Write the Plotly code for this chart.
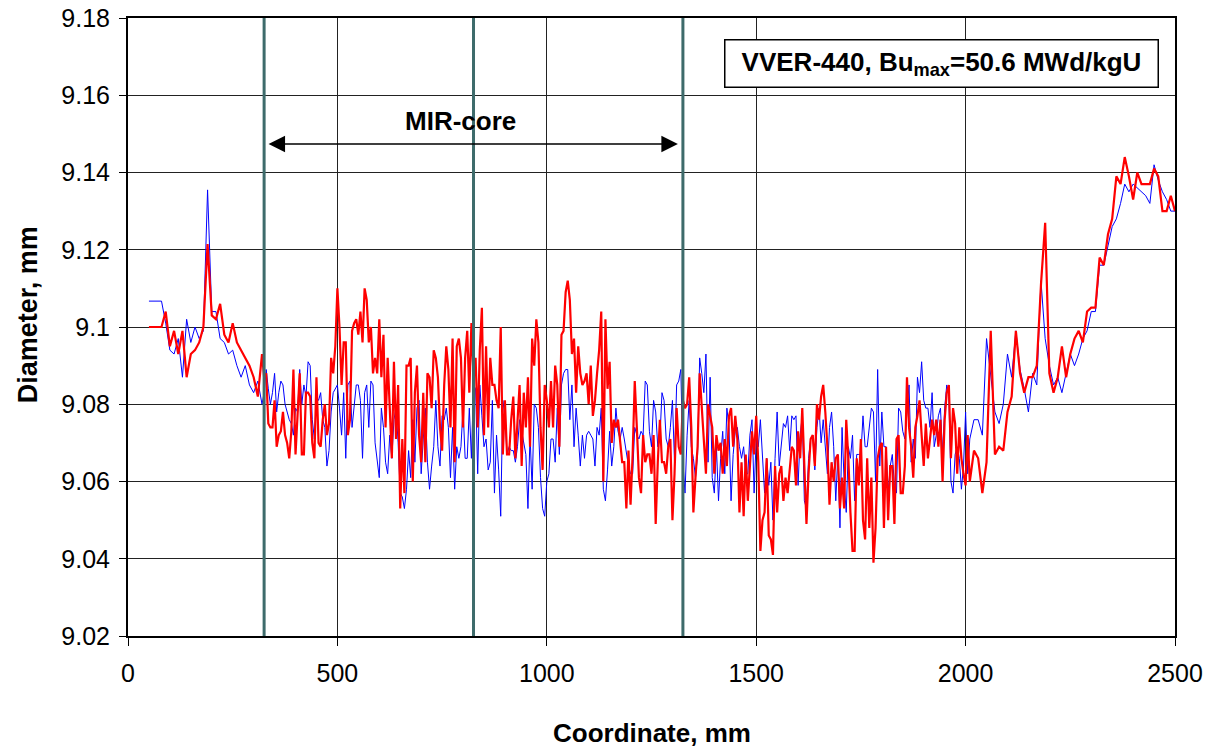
import plotly.graph_objects as go

# ---------------- data ----------------
# sampling positions along the rod, mm (10 mm steps at the ends, 5 mm in the noisy middle)
coord_head = list(range(50, 320, 10))
coord_mid = list(range(320, 2010, 5))
coord_tail = list(range(2010, 2501, 10))
coordinate_mm = coord_head + coord_mid + coord_tail

blue_head = [
    9.1067, 9.1067, 9.1067, 9.1067, 9.101, 9.094, 9.093, 9.097, 9.087, 9.102,
    9.096, 9.100, 9.097, 9.099, 9.1355, 9.104, 9.104, 9.097, 9.096, 9.093,
    9.094, 9.090, 9.087, 9.090, 9.085, 9.083, 9.086,
]
blue_mid = [
    9.080, 9.083, 9.089, 9.084, 9.080, 9.083, 9.088, 9.078, 9.083, 9.086, 9.085, 9.080, 9.078, 9.076, 9.075, 9.072, 9.079, 9.078, 9.089, 9.080,
    9.085, 9.082, 9.091, 9.090, 9.076, 9.071, 9.082, 9.081, 9.083, 9.076, 9.074, 9.064, 9.068, 9.078, 9.083, 9.084, 9.085, 9.079, 9.072, 9.083,
    9.066, 9.085, 9.086, 9.074, 9.079, 9.085, 9.085, 9.081, 9.066, 9.083, 9.085, 9.074, 9.086, 9.085, 9.070, 9.065, 9.061, 9.079, 9.074, 9.065,
    9.062, 9.072, 9.066, 9.076, 9.079, 9.070, 9.057, 9.056, 9.053, 9.058, 9.068, 9.061, 9.076, 9.065, 9.079, 9.081, 9.062, 9.071, 9.079, 9.065,
    9.058, 9.064, 9.069, 9.081, 9.069, 9.064, 9.077, 9.076, 9.079, 9.074, 9.061, 9.074, 9.058, 9.069, 9.066, 9.069, 9.079, 9.066, 9.066, 9.079,
    9.066, 9.085, 9.084, 9.062, 9.085, 9.077, 9.069, 9.071, 9.063, 9.065, 9.081, 9.057, 9.072, 9.063, 9.051, 9.081, 9.077, 9.067, 9.069, 9.068,
    9.068, 9.065, 9.069, 9.076, 9.073, 9.070, 9.067, 9.053, 9.072, 9.058, 9.080, 9.079, 9.074, 9.061, 9.053, 9.051, 9.060, 9.062, 9.071, 9.071,
    9.065, 9.079, 9.067, 9.085, 9.088, 9.089, 9.089, 9.076, 9.085, 9.069, 9.079, 9.072, 9.064, 9.072, 9.066, 9.072, 9.073, 9.072, 9.071, 9.064,
    9.074, 9.072, 9.079, 9.058, 9.055, 9.063, 9.073, 9.064, 9.069, 9.079, 9.073, 9.071, 9.074, 9.071, 9.067, 9.064, 9.062, 9.062, 9.074, 9.072,
    9.071, 9.073, 9.072, 9.086, 9.085, 9.073, 9.069, 9.081, 9.078, 9.069, 9.071, 9.083, 9.081, 9.071, 9.069, 9.074, 9.081, 9.065, 9.085, 9.086,
    9.089, 9.065, 9.057, 9.072, 9.081, 9.069, 9.066, 9.061, 9.067, 9.092, 9.088, 9.083, 9.093, 9.065, 9.087, 9.061, 9.057, 9.069, 9.055, 9.066,
    9.073, 9.062, 9.079, 9.074, 9.055, 9.067, 9.073, 9.074, 9.069, 9.066, 9.069, 9.062, 9.062, 9.072, 9.076, 9.057, 9.071, 9.069, 9.076, 9.066,
    9.057, 9.066, 9.059, 9.065, 9.050, 9.066, 9.078, 9.064, 9.069, 9.075, 9.074, 9.077, 9.068, 9.077, 9.076, 9.077, 9.059, 9.072, 9.077, 9.055,
    9.053, 9.066, 9.071, 9.072, 9.063, 9.074, 9.079, 9.070, 9.076, 9.069, 9.062, 9.074, 9.078, 9.069, 9.055, 9.067, 9.048, 9.074, 9.060, 9.052,
    9.069, 9.066, 9.072, 9.055, 9.067, 9.067, 9.067, 9.077, 9.069, 9.069, 9.074, 9.079, 9.078, 9.060, 9.089, 9.064, 9.078, 9.069, 9.069, 9.057,
    9.064, 9.067, 9.059, 9.057, 9.079, 9.078, 9.073, 9.071, 9.078, 9.085, 9.065, 9.071, 9.066, 9.087, 9.083, 9.091, 9.081, 9.079, 9.079, 9.074,
    9.083, 9.069, 9.072, 9.077, 9.079, 9.067, 9.079, 9.085, 9.082, 9.060, 9.057, 9.067, 9.069, 9.066, 9.058, 9.064, 9.078, 9.062,
]
blue_tail = [
    9.071, 9.076, 9.076, 9.072, 9.097, 9.087, 9.078, 9.075, 9.080, 9.093,
    9.087, 9.099, 9.089, 9.084, 9.078, 9.088, 9.085, 9.112, 9.097, 9.090,
    9.085, 9.087, 9.083, 9.088, 9.093, 9.090, 9.093, 9.097, 9.099, 9.104,
    9.104, 9.116, 9.116, 9.121, 9.126, 9.128, 9.132, 9.137, 9.135, 9.137,
    9.136, 9.135, 9.134, 9.132, 9.142, 9.138, 9.135, 9.133, 9.130, 9.130,
]

red_head = [
    9.100, 9.100, 9.100, 9.100, 9.104, 9.095, 9.099, 9.093, 9.099, 9.087,
    9.093, 9.094, 9.096, 9.100, 9.1215, 9.103, 9.102, 9.106, 9.098, 9.096,
    9.101, 9.096, 9.094, 9.092, 9.090, 9.087, 9.082,
]
red_mid = [
    9.093, 9.087, 9.088, 9.075, 9.074, 9.074, 9.081, 9.069, 9.072, 9.073, 9.078, 9.072, 9.070, 9.066, 9.073, 9.089, 9.067, 9.079, 9.088, 9.067,
    9.067, 9.083, 9.083, 9.082, 9.070, 9.066, 9.087, 9.070, 9.069, 9.076, 9.080, 9.072, 9.075, 9.092, 9.088, 9.095, 9.110, 9.100, 9.085, 9.096,
    9.096, 9.072, 9.076, 9.099, 9.101, 9.102, 9.098, 9.104, 9.096, 9.110, 9.107, 9.096, 9.100, 9.088, 9.092, 9.088, 9.102, 9.087, 9.098, 9.074,
    9.092, 9.079, 9.066, 9.091, 9.071, 9.085, 9.053, 9.071, 9.057, 9.090, 9.090, 9.092, 9.060, 9.083, 9.090, 9.072, 9.065, 9.083, 9.065, 9.088,
    9.087, 9.079, 9.094, 9.092, 9.087, 9.074, 9.068, 9.085, 9.095, 9.089, 9.074, 9.097, 9.065, 9.095, 9.097, 9.092, 9.074, 9.092, 9.099, 9.083,
    9.101, 9.087, 9.092, 9.074, 9.094, 9.105, 9.072, 9.095, 9.074, 9.092, 9.085, 9.085, 9.081, 9.079, 9.100, 9.067, 9.081, 9.067, 9.067, 9.076,
    9.082, 9.066, 9.076, 9.085, 9.064, 9.083, 9.074, 9.087, 9.069, 9.097, 9.090, 9.102, 9.096, 9.074, 9.063, 9.085, 9.081, 9.074, 9.086, 9.074,
    9.090, 9.085, 9.069, 9.098, 9.099, 9.109, 9.112, 9.107, 9.093, 9.097, 9.083, 9.095, 9.088, 9.085, 9.086, 9.088, 9.080, 9.090, 9.077, 9.081,
    9.088, 9.094, 9.104, 9.060, 9.102, 9.084, 9.091, 9.070, 9.076, 9.074, 9.076, 9.071, 9.065, 9.065, 9.053, 9.068, 9.054, 9.067, 9.086, 9.074,
    9.061, 9.057, 9.072, 9.065, 9.067, 9.067, 9.062, 9.072, 9.049, 9.065, 9.076, 9.065, 9.065, 9.062, 9.069, 9.071, 9.050, 9.062, 9.079, 9.069,
    9.067, 9.081, 9.079, 9.080, 9.087, 9.074, 9.052, 9.061, 9.069, 9.088, 9.079, 9.069, 9.062, 9.080, 9.077, 9.074, 9.062, 9.072, 9.068, 9.070,
    9.062, 9.071, 9.064, 9.077, 9.079, 9.069, 9.077, 9.071, 9.052, 9.065, 9.051, 9.067, 9.055, 9.065, 9.073, 9.067, 9.077, 9.065, 9.042, 9.050,
    9.052, 9.066, 9.046, 9.045, 9.041, 9.064, 9.052, 9.062, 9.064, 9.055, 9.061, 9.057, 9.063, 9.069, 9.068, 9.059, 9.073, 9.066, 9.079, 9.066,
    9.049, 9.062, 9.071, 9.072, 9.064, 9.080, 9.076, 9.082, 9.085, 9.078, 9.069, 9.054, 9.065, 9.060, 9.066, 9.067, 9.053, 9.061, 9.053, 9.076,
    9.066, 9.052, 9.042, 9.042, 9.066, 9.059, 9.071, 9.050, 9.045, 9.066, 9.048, 9.061, 9.039, 9.048, 9.066, 9.069, 9.070, 9.048, 9.069, 9.050,
    9.064, 9.064, 9.049, 9.071, 9.072, 9.057, 9.057, 9.064, 9.087, 9.074, 9.069, 9.061, 9.074, 9.077, 9.081, 9.072, 9.064, 9.075, 9.066, 9.071,
    9.076, 9.072, 9.076, 9.069, 9.076, 9.060, 9.076, 9.083, 9.085, 9.066, 9.079, 9.075, 9.062, 9.074, 9.066, 9.062, 9.059, 9.072,
]
red_tail = [
    9.060, 9.068, 9.066, 9.057, 9.065, 9.099, 9.067, 9.069, 9.068, 9.078,
    9.082, 9.099, 9.088, 9.083, 9.087, 9.087, 9.090, 9.111, 9.127, 9.088,
    9.083, 9.087, 9.095, 9.087, 9.093, 9.097, 9.099, 9.096, 9.104, 9.105,
    9.105, 9.118, 9.116, 9.124, 9.128, 9.139, 9.137, 9.144, 9.139, 9.133,
    9.140, 9.137, 9.137, 9.137, 9.141, 9.139, 9.130, 9.130, 9.134, 9.130,
]

diameter_blue = blue_head + blue_mid + blue_tail
diameter_red = red_head + red_mid + red_tail
assert len(diameter_blue) == len(coordinate_mm), (len(diameter_blue), len(coordinate_mm))
assert len(diameter_red) == len(coordinate_mm), (len(diameter_red), len(coordinate_mm))

core_boundaries_mm = [325, 825, 1325]       # dark teal vertical lines
x_tick_values = [0, 500, 1000, 1500, 2000, 2500]
y_tick_values = [9.02, 9.04, 9.06, 9.08, 9.10, 9.12, 9.14, 9.16, 9.18]
y_tick_labels = ["9.02", "9.04", "9.06", "9.08", "9.1", "9.12", "9.14", "9.16", "9.18"]
mir_arrow_mm = [332, 1313]
mir_arrow_level = 9.1474
mir_label = "MIR-core"
mir_label_pos = (793, 9.1533)
box_label = "VVER-440, Bu<sub>max</sub>=50.6 MWd/kgU"
box_label_pos = (1942, 9.1681)
x_title = "Coordinate, mm"
y_title = "Diameter, mm"

# ---------------- figure ----------------
FONT = "Liberation Sans, Arial, Helvetica, sans-serif"

fig = go.Figure()
fig.add_trace(go.Scatter(x=coordinate_mm, y=diameter_blue, mode="lines",
                         line=dict(color="#0000ff", width=1), showlegend=False))
fig.add_trace(go.Scatter(x=coordinate_mm, y=diameter_red, mode="lines",
                         line=dict(color="#ff0000", width=2.2), showlegend=False))

for xb in core_boundaries_mm:
    fig.add_shape(type="line", xref="x", yref="paper", x0=xb, x1=xb, y0=0, y1=1,
                  line=dict(color="#3e6b6b", width=3), layer="above")

# double-headed arrow
fig.add_annotation(x=mir_arrow_mm[1], y=mir_arrow_level, ax=mir_arrow_mm[0], ay=mir_arrow_level,
                   xref="x", yref="y", axref="x", ayref="y", text="", showarrow=True,
                   arrowhead=2, startarrowhead=2, arrowside="end+start",
                   arrowsize=2.2, startarrowsize=2.2, arrowwidth=1.5, arrowcolor="black")
fig.add_annotation(x=mir_label_pos[0], y=mir_label_pos[1], xref="x", yref="y",
                   text="<b>" + mir_label + "</b>", showarrow=False,
                   font=dict(family=FONT, size=26, color="black"))
fig.add_annotation(x=box_label_pos[0], y=box_label_pos[1], xref="x", yref="y",
                   text="<b>" + box_label + "</b>", showarrow=False,
                   font=dict(family=FONT, size=26, color="black"),
                   bgcolor="white", bordercolor="black", borderwidth=1.5,
                   borderpad=0, width=432, height=46)

# axis titles
fig.add_annotation(x=0.5, y=-0.157, xref="paper", yref="paper", text="<b>" + x_title + "</b>",
                   showarrow=False, font=dict(family=FONT, size=26, color="black"),
                   xanchor="center", yanchor="middle")
fig.add_annotation(x=-0.0955, y=0.519, xref="paper", yref="paper", text="<b>" + y_title + "</b>",
                   showarrow=False, textangle=-90, font=dict(family=FONT, size=27, color="black"),
                   xanchor="center", yanchor="middle")

fig.update_xaxes(range=[0, 2500], tickvals=x_tick_values, ticks="outside", ticklen=8,
                 tickcolor="black", tickwidth=1, showgrid=True, gridcolor="#222222", gridwidth=1,
                 showline=True, linecolor="black", linewidth=2, mirror=True, zeroline=False,
                 tickfont=dict(family=FONT, size=25, color="black"), ticklabelstandoff=6,
                 automargin=False, ticklabeloverflow="allow")
fig.update_yaxes(range=[9.02, 9.18], tickvals=y_tick_values, ticktext=y_tick_labels,
                 ticks="outside", ticklen=7, tickcolor="black", tickwidth=1,
                 showgrid=True, gridcolor="#222222", gridwidth=1,
                 showline=True, linecolor="black", linewidth=2, mirror=True, zeroline=False,
                 tickfont=dict(family=FONT, size=25, color="black"), ticklabelstandoff=4,
                 automargin=False, ticklabeloverflow="allow")

# page body adds an 8px offset, margins compensate so the plot area lands at 128..1175 x 18..636
fig.update_layout(width=1217, height=753, margin=dict(l=120, r=50, t=10, b=125),
                  plot_bgcolor="white", paper_bgcolor="white", showlegend=False)

fig.write_html("out.html")
